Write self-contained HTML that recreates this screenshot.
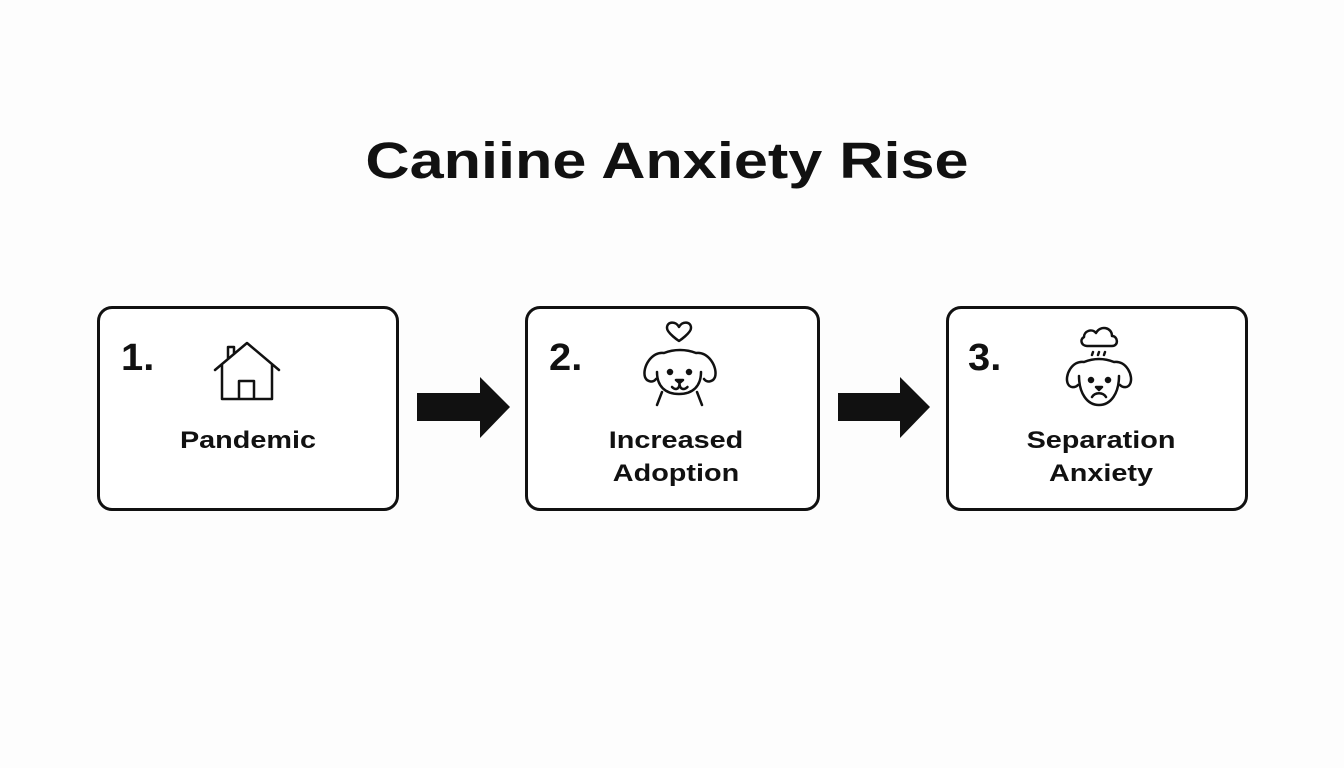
<!DOCTYPE html>
<html><head><meta charset="utf-8"><style>
body{margin:0;width:1344px;height:768px;background:#fdfdfd;position:relative;overflow:hidden;font-family:"Liberation Sans",sans-serif;color:#111}
.t{position:absolute;left:-5px;width:1344px;top:131px;text-align:center;font-size:51px;font-weight:bold;transform:scaleX(1.2);transform-origin:672px 0}
.box{position:absolute;top:306px;height:199px;border:3px solid #111;border-radius:15px;background:#fff}
.n{position:absolute;font-size:38px;font-weight:bold;top:337px;transform:scaleX(1.05);transform-origin:0 0}
.l{position:absolute;font-size:24px;font-weight:bold;text-align:center;line-height:33px;transform:scaleX(1.2)}
svg{position:absolute}
</style></head><body>
<div class="t">Caniine Anxiety Rise</div>
<div class="box" style="left:97px;width:296px"></div>
<div class="box" style="left:525px;width:289px"></div>
<div class="box" style="left:946px;width:296px"></div>
<div class="n" style="left:121px">1.</div>
<div class="n" style="left:549px">2.</div>
<div class="n" style="left:968px">3.</div>
<div class="l" style="left:97px;width:302px;top:424px">Pandemic</div>
<div class="l" style="left:525px;width:302px;top:424px">Increased<br>Adoption</div>
<div class="l" style="left:946px;width:310px;top:424px">Separation<br>Anxiety</div>
<svg width="1344" height="768" style="left:0;top:0" fill="none" stroke="#111" stroke-width="2.5" stroke-linecap="round" stroke-linejoin="round">
<polygon points="417,393 480,393 480,377 510,407 480,438 480,421 417,421" fill="#111" stroke="none"/>
<polygon points="838,393 900,393 900,377 930,407 900,438 900,421 838,421" fill="#111" stroke="none"/>
<path d="M215,370 L247,343 L279,370 M222,365 V399 H272 V365 M239,399 V381 H254 V399 M228,358 V347 H234 V353"/>
<path d="M679,327 c-3,-6 -12,-6 -12,1 c0,5 12,13 12,13 c0,0 12,-8 12,-13 c0,-7 -9,-7 -12,-1z"/>
<path d="M664,353 c-12,-2 -22,14 -19,24 c2,5 8,6 11,2 M696,353 c12,-2 22,14 19,24 c-2,5 -8,6 -11,2 M664,353 c10,-4 22,-4 32,0 M657,372 c0,14 8,22 22,22 c14,0 22,-8 22,-22 M662,392 l-5,13 M697,392 l5,13"/>
<circle cx="670" cy="372" r="2" fill="#111"/><circle cx="689" cy="372" r="2" fill="#111"/>
<path d="M676,380 h7 l-3.5,3z" fill="#111"/><path d="M672,387 c3,3 7,3 7.5,-3 c0.5,6 5,6 8,3"/>
<path d="M1087,346 c-5,0 -8,-6 -3,-9 c0,-6 8,-9 12,-4 c4,-8 16,-6 16,3 c6,0 7,10 0,10z"/>
<path d="M1093,352 l-1,3 M1099,352 l-1,3 M1105,352 l-1,3"/>
<path d="M1084,362 c-12,-2 -20,14 -16,22 c2,4 7,4 10,1 M1114,362 c12,-2 20,14 16,22 c-2,4 -7,4 -10,1 M1084,362 c10,-4 20,-4 30,0 M1079,376 c0,17 8,29 20,29 c12,0 20,-12 20,-29"/>
<circle cx="1091" cy="380" r="2" fill="#111"/><circle cx="1108" cy="380" r="2" fill="#111"/>
<path d="M1096,387 h6 l-3,3z" fill="#111"/><path d="M1092,397 c3,-5 11,-5 14,0"/>
</svg>
</body></html>
